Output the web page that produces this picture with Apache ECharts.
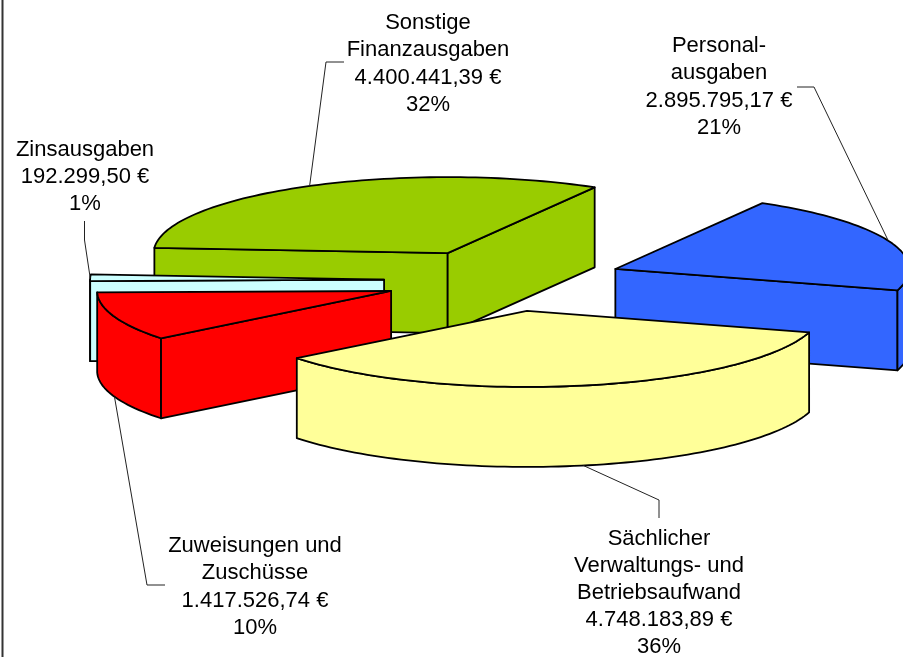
<!DOCTYPE html>
<html>
<head>
<meta charset="utf-8">
<style>html,body{margin:0;padding:0;background:#fff}#c{width:903px;height:657px}</style>
<script src="https://cdn.jsdelivr.net/npm/echarts@6/dist/echarts.min.js"></script>
</head>
<body>
<div id="c"></div>
<script>
// --- data (in drawing order around the pie, clockwise) ---
var categories = [
  ['Personal-', 'ausgaben'],
  ['Sächlicher', 'Verwaltungs- und', 'Betriebsaufwand'],
  ['Zuweisungen und', 'Zuschüsse'],
  ['Zinsausgaben'],
  ['Sonstige', 'Finanzausgaben']
];
var values = [2895795.17, 4748183.89, 1417526.74, 192299.50, 4400441.39];
var valueLabels = ['2.895.795,17 €', '4.748.183,89 €', '1.417.526,74 €', '192.299,50 €', '4.400.441,39 €'];
var percentLabels = ['21%', '36%', '10%', '1%', '32%'];
var colors = ['#3366FF', '#FFFF99', '#FF0000', '#CCFFFF', '#99CC00'];

// --- layout ---
var CENTER = [504, 280.5], RX = 294, RY = 76, DEPTH = 80, EXPLODE = 0.408, START_DEG = 30;
var paintRank = [2, 5, 4, 3, 1];
var labelCenters = [[719, 87], [659, 593], [255, 587], [85, 177], [428, 64]];
var LINE_H = 27.2;
var leaderElbows = [
  [[814, 87], [797, 87]],
  [[659, 500], [659, 518]],
  [[147, 585], [165, 585]],
  [[84.5, 240], [84.5, 221]],
  [[326, 62], [344, 62]]
];

var total = values.reduce(function (a, b) { return a + b; }, 0);
var starts = [], acc = START_DEG;
values.forEach(function (v) { starts.push(acc); acc += v / total * 360; });
var rad = Math.PI / 180;

function renderItem(params, api) {
  var i = params.dataIndex;
  var v = api.value(0);
  var a1 = starts[i], a2 = a1 + v / total * 360, mid = (a1 + a2) / 2;
  var cx = CENTER[0] + EXPLODE * RX * Math.sin(mid * rad);
  var cy = CENTER[1] - EXPLODE * RY * Math.cos(mid * rad);
  function P(x, y) { return api.coord([x, y]); }
  function rim(a, d) {
    return [cx + RX * Math.sin(a * rad), cy - RY * Math.cos(a * rad) + (d || 0)];
  }
  var z = paintRank[i] * 10;
  var stroke = { stroke: '#000', lineWidth: 1.8, lineJoin: 'round', fill: colors[i] };
  var kids = [];
  function poly(pts, zz) {
    kids.push({ type: 'polygon', z2: zz, shape: { points: pts.map(function (p) { return P(p[0], p[1]); }) }, style: stroke });
  }
  function radial(a) {
    var r = rim(a);
    poly([[cx, cy], r, [r[0], r[1] + DEPTH], [cx, cy + DEPTH]], z);
  }
  if (Math.cos((a1 - 90) * rad) < 0) radial(a1);
  if (Math.cos((a2 + 90) * rad) < 0) radial(a2);
  // outer wall: only the part facing the viewer (90°..270°, mod 360)
  var lo = Math.max(a1, 90), hi = Math.min(a2, 270), a;
  if (hi > lo) {
    var top = [], bot = [];
    for (a = lo; a < hi; a += 1.5) { top.push(rim(a)); bot.unshift(rim(a, DEPTH)); }
    top.push(rim(hi)); bot.unshift(rim(hi, DEPTH));
    poly(top.concat(bot), z + 1);
  }
  // top face
  var face = [[cx, cy]];
  for (a = a1; a < a2; a += 1.5) face.push(rim(a));
  face.push(rim(a2));
  poly(face, z + 2);

  // leader line from the rim at the slice's middle
  var m = Math.cos(mid * rad) < 0 ? rim(mid, DEPTH) : rim(mid);
  var pts = [m].concat(leaderElbows[i]).map(function (p) { return P(p[0], p[1]); });
  kids.push({ type: 'polyline', z2: 100, shape: { points: pts }, style: { stroke: '#222', lineWidth: 1, fill: null } });

  // multi-line label
  var lines = categories[i].concat([valueLabels[i], percentLabels[i]]);
  var c = P(labelCenters[i][0], labelCenters[i][1]);
  lines.forEach(function (t, k) {
    kids.push({
      type: 'text', z2: 110,
      x: c[0], y: c[1] + (k - (lines.length - 1) / 2) * LINE_H,
      style: { text: t, fill: '#000', font: '22px "Liberation Sans", Arial, sans-serif', align: 'center', verticalAlign: 'middle' }
    });
  });
  return { type: 'group', children: kids };
}

var chart = echarts.init(document.getElementById('c'), null, { renderer: 'canvas' });
chart.setOption({
  animation: false,
  backgroundColor: '#fff',
  grid: { left: 0, right: 0, top: 0, bottom: 0 },
  xAxis: { type: 'value', min: 0, max: 903, show: false },
  yAxis: { type: 'value', min: 0, max: 657, inverse: true, show: false },
  graphic: [{
    type: 'line', silent: true, z: 200,
    shape: { x1: 2.5, y1: 0, x2: 2.5, y2: 657 }, style: { stroke: '#333', lineWidth: 2 }
  }],
  series: [{
    type: 'custom',
    clip: false,
    coordinateSystem: 'cartesian2d',
    renderItem: renderItem,
    data: values.map(function (v, i) { return [v, i]; }),
    encode: { x: 0, y: 1 },
    silent: true
  }]
});
</script>
</body>
</html>
